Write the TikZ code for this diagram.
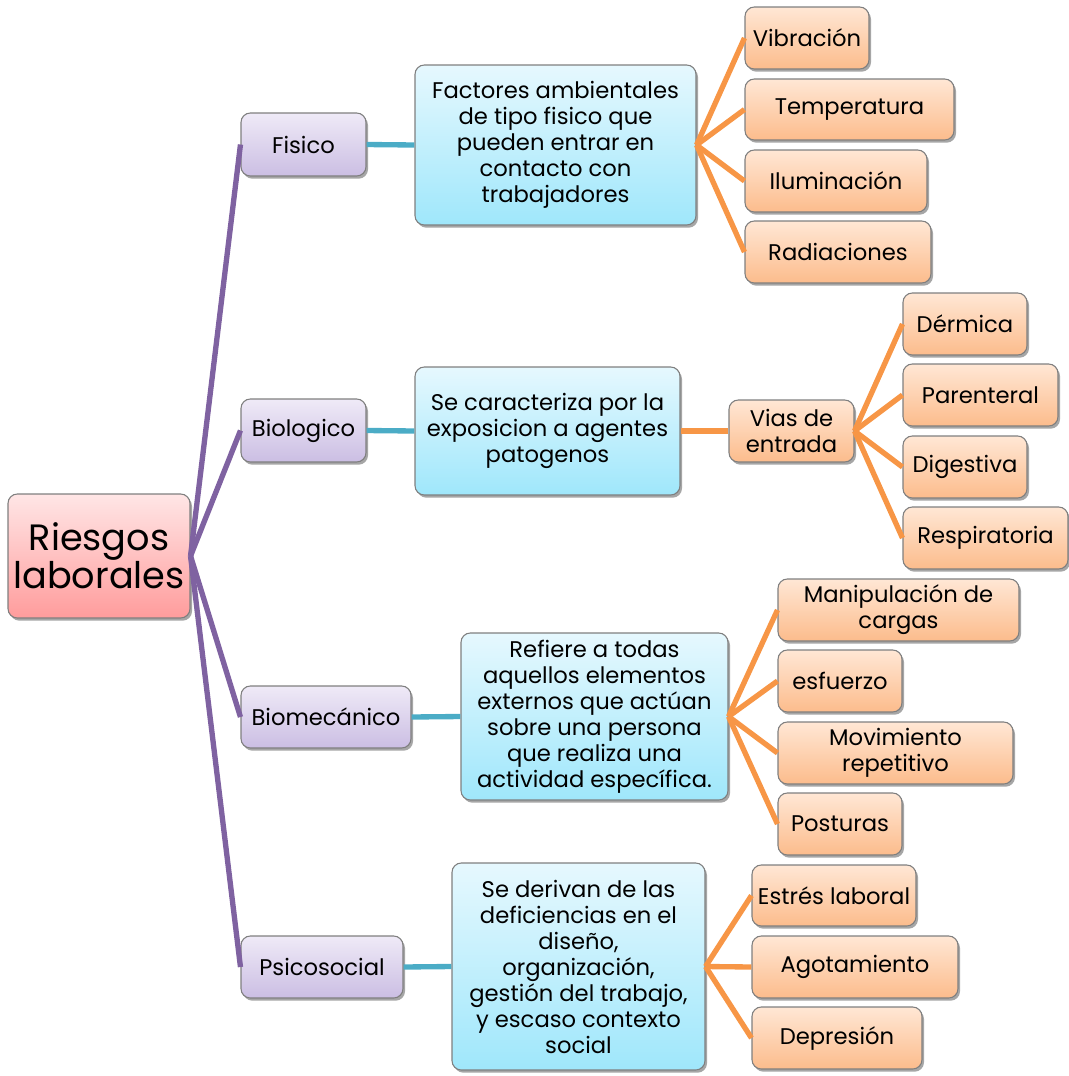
\documentclass[tikz,border=0pt]{standalone}
\usepackage{fontspec}
\setmainfont{Poppins}
\usetikzlibrary{shadows}
\definecolor{lpurple}{HTML}{7F62A1}
\definecolor{lteal}{HTML}{4BACC6}
\definecolor{lorange}{HTML}{F79646}
\definecolor{bord}{HTML}{7F7F7F}
\definecolor{rtop}{HTML}{FFE6E6}
\definecolor{rbot}{HTML}{FF9C9C}
\definecolor{ptop}{HTML}{EFEAF7}
\definecolor{pbot}{HTML}{CBBEE3}
\definecolor{btop}{HTML}{E6F8FE}
\definecolor{bbot}{HTML}{9FE7FB}
\definecolor{otop}{HTML}{FFE7D5}
\definecolor{obot}{HTML}{FCBC8C}
\tikzset{
  base/.style={draw=bord, line width=0.8pt, rounded corners=7pt, align=center,
    inner sep=2pt, font=\fontsize{17}{19.5}\selectfont,
    drop shadow={shadow xshift=1.5pt, shadow yshift=-2pt, fill=black, opacity=0.35}},
  rootbox/.style={base, top color=rtop, bottom color=rbot, font=\fontsize{27.5}{28.5}\selectfont},
  catbox/.style={base, top color=ptop, bottom color=pbot},
  descbox/.style={base, top color=btop, bottom color=bbot},
  leafbox/.style={base, top color=otop, bottom color=obot},
  pline/.style={lpurple, line width=4pt},
  tline/.style={lteal, line width=4pt},
  oline/.style={lorange, line width=4pt},
}
\newcommand{\bx}[7]{% name, style, x1, y1, x2, y2, text
  \node[#2, minimum width={(#5-#3)*0.75pt}, minimum height={(#6-#4)*0.75pt}] (#1) at ({(#3+#5)/2},{(#4+#6)/2}) {#7};}
\begin{document}
\begin{tikzpicture}[x=0.75pt,y=-0.75pt]
\useasboundingbox (0,0) rectangle (1069,1076);
% nodes
\bx{root}{rootbox}{8}{494}{190}{618}{Riesgos\\laborales}
\bx{fis}{catbox}{241}{113}{366}{176}{Fisico}
\bx{bio}{catbox}{241}{399}{366}{462}{Biologico}
\bx{mec}{catbox}{241}{686}{411}{748}{Biomecánico}
\bx{psi}{catbox}{241}{936}{403}{998}{Psicosocial}
\bx{dfis}{descbox}{415}{65}{696}{225}{Factores ambientales\\de tipo fisico que\\pueden entrar en\\contacto con\\trabajadores}
\bx{dbio}{descbox}{415}{367}{680}{495}{Se caracteriza por la\\exposicion a agentes\\patogenos}
\bx{dmec}{descbox}{461}{633}{728}{800}{Refiere a todas\\aquellos elementos\\externos que actúan\\sobre una persona\\que realiza una\\actividad específica.}
\bx{dpsi}{descbox}{452}{863}{705}{1070}{Se derivan de las\\deficiencias en el\\diseño,\\organización,\\gestión del trabajo,\\y escaso contexto\\social}
\bx{vib}{leafbox}{745}{7}{869}{69}{Vibración}
\bx{tem}{leafbox}{745}{79}{954}{140}{Temperatura}
\bx{ilu}{leafbox}{745}{150}{927}{212}{Iluminación}
\bx{rad}{leafbox}{745}{221}{931}{283}{Radiaciones}
\bx{vias}{leafbox}{729}{400}{854}{462}{Vias de\\entrada}
\bx{der}{leafbox}{903}{293}{1027}{355}{Dérmica}
\bx{par}{leafbox}{903}{364}{1058}{426}{Parenteral}
\bx{dig}{leafbox}{903}{436}{1027}{498}{Digestiva}
\bx{res}{leafbox}{903}{507}{1068}{569}{Respiratoria}
\bx{man}{leafbox}{778}{579}{1019}{641}{Manipulación de\\cargas}
\bx{esf}{leafbox}{778}{650}{902}{712}{esfuerzo}
\bx{mov}{leafbox}{778}{722}{1013}{784}{Movimiento\\repetitivo}
\bx{pos}{leafbox}{778}{793}{902}{855}{Posturas}
\bx{est}{leafbox}{752}{865}{916}{926}{Estrés laboral}
\bx{ago}{leafbox}{752}{936}{958}{998}{Agotamiento}
\bx{dep}{leafbox}{752}{1007}{922}{1069}{Depresión}
% connectors
\foreach \c in {fis,bio,mec,psi} \draw[pline] (root.east) -- (\c.west);
\draw[tline] (fis.east) -- (dfis.west);
\draw[tline] (bio.east) -- (dbio.west);
\draw[tline] (mec.east) -- (dmec.west);
\draw[tline] (psi.east) -- (dpsi.west);
\foreach \c in {vib,tem,ilu,rad} \draw[oline] (dfis.east) -- (\c.west);
\draw[oline] (dbio.east) -- (vias.west);
\foreach \c in {der,par,dig,res} \draw[oline] (vias.east) -- (\c.west);
\foreach \c in {man,esf,mov,pos} \draw[oline] (dmec.east) -- (\c.west);
\foreach \c in {est,ago,dep} \draw[oline] (dpsi.east) -- (\c.west);
\end{tikzpicture}
\end{document}
